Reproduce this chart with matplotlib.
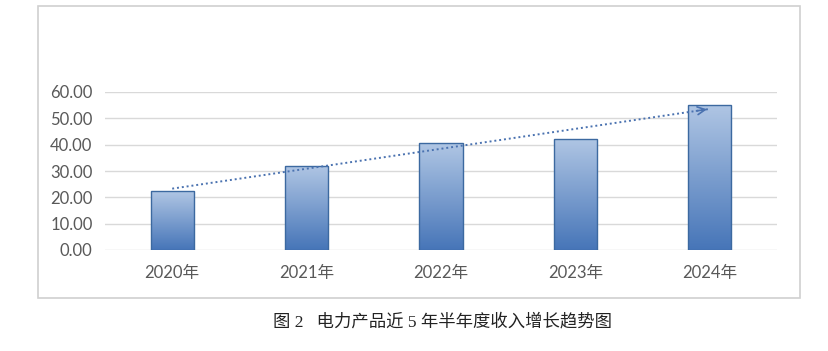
import numpy as np
import matplotlib.pyplot as plt
import matplotlib.colors as mcolors
from matplotlib.patches import Rectangle

# Chart data
years = ['2020年', '2021年', '2022年', '2023年', '2024年']
revenue = [22.4, 31.9, 40.6, 42.2, 55.1]
yTicks = [0, 10, 20, 30, 40, 50, 60]
caption = '图 2   电力产品近 5 年半年度收入增长趋势图'

# Figure and outer frame
fig = plt.figure(figsize=(8.29, 3.51), dpi=100)
fig.patches.append(Rectangle((38 / 829, 1 - 298 / 351), (800 - 38) / 829, (298 - 6) / 351,
                             transform=fig.transFigure, fill=False, edgecolor='#d0d0d0', linewidth=1.2))

ax = fig.add_axes([105 / 829, 1 - 250 / 351, (777 - 105) / 829, 158 / 351])
x = np.arange(len(years))

# Grid lines behind bars
for t in yTicks:
    ax.axhline(t, color='#d9d9d9', linewidth=1.0, zorder=1)

# Bars with vertical gradient
cmap = mcolors.LinearSegmentedColormap.from_list('barGrad', ['#4675b8', '#b0c6e4'])
gradient = np.linspace(0, 1, 256).reshape(-1, 1)
bars = ax.bar(x, revenue, width=0.32, color='none', edgecolor='#3c69a0', linewidth=1.0, zorder=3)
for bar in bars:
    bx, bw, bh = bar.get_x(), bar.get_width(), bar.get_height()
    img = ax.imshow(gradient, cmap=cmap, aspect='auto', origin='lower',
                    extent=(bx, bx + bw, 0, bh), zorder=2)
    img.set_clip_path(bar)
ax.set_xlim(-0.5, len(years) - 0.5)
ax.set_ylim(0, 60)

# Linear trend line (dotted, with arrow head)
slope, intercept = np.polyfit(x, revenue, 1)
trend = slope * x + intercept
ax.plot(x, trend, linestyle=(0, (1, 1.5)), color='#4a72b0', linewidth=1.4, zorder=4)
ax.annotate('', xy=(x[-1], trend[-1]), xytext=(x[-1] - 0.12, trend[-1] - 0.12 * slope),
            arrowprops=dict(arrowstyle='->', color='#4a72b0', lw=1.2, mutation_scale=14), zorder=4)

# Axes styling
for s in ax.spines.values():
    s.set_visible(False)
ax.set_yticks(yTicks)
ax.set_yticklabels([f'{t:.2f}' for t in yTicks], fontsize=12, color='#595959', family=['Lato', 'Noto Sans CJK SC'])
ax.set_xticks(x)
ax.set_xticklabels(years, fontsize=12, color='#595959', family=['Lato', 'Noto Sans CJK SC'])
ax.tick_params(length=0, pad=11)
ax.tick_params(axis='y', pad=9)

# Caption under the frame
fig.text(443 / 829, 1 - 322 / 351, caption, ha='center', va='center', fontsize=12.5, color='#222222',
         family=['Liberation Serif', 'Noto Sans CJK SC'])

fig.savefig('out.png', dpi=100)
